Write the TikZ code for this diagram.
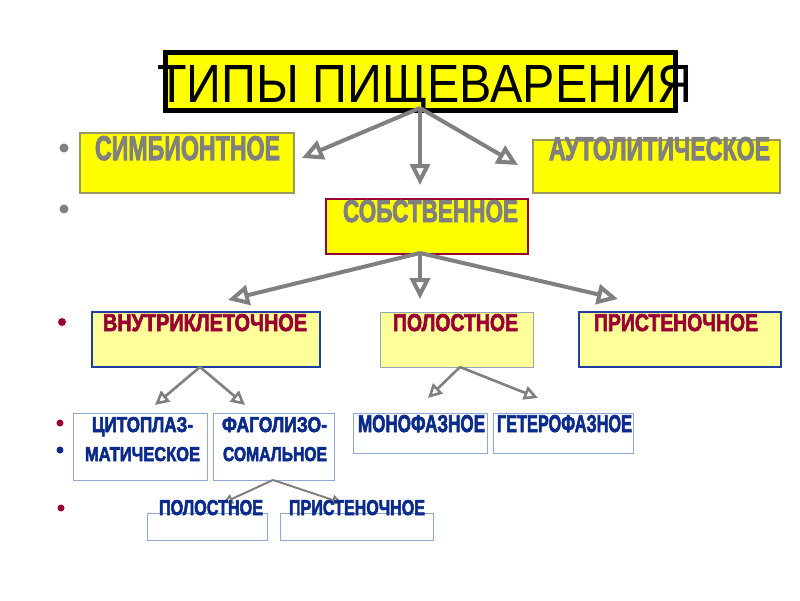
\documentclass[tikz,border=0pt]{standalone}
\usepackage{fontspec}
\setmainfont{Liberation Sans}
\newfontfamily\heavy{Liberation Sans}[FakeBold=3]
\usetikzlibrary{arrows.meta}
\definecolor{yel}{HTML}{FFFF00}
\definecolor{lyel}{HTML}{FFFF99}
\definecolor{gtxt}{HTML}{808080}
\definecolor{dred}{HTML}{990033}
\definecolor{dblue}{HTML}{0A2A8C}
\definecolor{bborder}{HTML}{1F3F9F}
\definecolor{lborder}{HTML}{8FA8D8}
\definecolor{oborder}{HTML}{9A9A60}
\definecolor{pborder}{HTML}{90A8B8}
\newcommand\fitt[3]{\resizebox{#1pt}{#2pt}{#3}}
\tikzset{
  bx/.style={inner sep=0pt, outer sep=0pt, anchor=north west},
  tx/.style={inner sep=0pt, outer sep=0pt, anchor=base west},
  hv/.style={font=\heavy\bfseries},
  dot/.style={circle, inner sep=0pt, minimum size=#1},
  arrA/.style={draw=gtxt, line width=4pt, -{Triangle[open, length=21pt, width=20pt]}},
  arrB/.style={draw=gtxt, line width=2.6pt, -{Triangle[open, length=14pt, width=14pt]}},
  arrC/.style={draw=gtxt, line width=2pt, -{Triangle[open, length=10pt, width=10pt]}},
}
\begin{document}
\begin{tikzpicture}[x=1pt,y=-1pt]
\useasboundingbox[fill=white] (0,0) rectangle (800,600);

% title
\node[bx, draw=black, line width=5pt, fill=yel, minimum width=510pt, minimum height=58pt] (title) at (165,52) {};
\node[tx] (titlet) at (157,102) {\fitt{535}{37}{ТИПЫ ПИЩЕВАРЕНИЯ}};

% bullets
\node[dot=9pt, fill=gtxt] (b1) at (64,148) {};
\node[dot=9pt, fill=gtxt] (b2) at (64,209) {};
\node[dot=8pt, fill=dred] (b3) at (62,322) {};
\node[dot=7pt, fill=dred] (b4) at (60,423) {};
\node[dot=7pt, fill=dblue] (b5) at (60,450) {};
\node[dot=7pt, fill=dred] (b6) at (61,508) {};

% level 1 boxes
\node[bx, draw=oborder, line width=1.2pt, fill=yel, minimum width=214pt, minimum height=60pt] (simb) at (80,133) {};
\node[tx, text=gtxt, hv] (simbt) at (95,160) {\fitt{185}{24}{СИМБИОНТНОЕ}};
\node[bx, draw=oborder, line width=1.2pt, fill=yel, minimum width=247pt, minimum height=53pt] (auto) at (533,140) {};
\node[tx, text=gtxt, hv] (autot) at (549,160) {\fitt{221}{23}{АУТОЛИТИЧЕСКОЕ}};
\node[bx, draw=dred, line width=2pt, fill=yel, minimum width=202pt, minimum height=55pt] (sobs) at (326,199) {};
\node[tx, text=gtxt, hv] (sobst) at (343,222) {\fitt{175}{22}{СОБСТВЕННОЕ}};

% level 2 boxes
\node[bx, draw=bborder, line width=2.5pt, fill=lyel, minimum width=228pt, minimum height=55pt] (vnut) at (92,312) {};
\node[tx, text=dred, hv] (vnutt) at (103,331) {\fitt{204}{17}{ВНУТРИКЛЕТОЧНОЕ}};
\node[bx, draw=pborder, line width=1pt, fill=lyel, minimum width=153pt, minimum height=55pt] (pol) at (380,312) {};
\node[tx, text=dred, hv] (polt) at (393,331) {\fitt{125}{17}{ПОЛОСТНОЕ}};
\node[bx, draw=bborder, line width=2.5pt, fill=lyel, minimum width=202pt, minimum height=55pt] (prist) at (579,312) {};
\node[tx, text=dred, hv] (pristt) at (594,331) {\fitt{164}{17}{ПРИСТЕНОЧНОЕ}};

% level 3 boxes
\node[bx, draw=lborder, line width=1pt, fill=white, minimum width=134pt, minimum height=67pt] (cito) at (73,413) {};
\node[tx, text=dblue, hv] (citot1) at (92,432) {\fitt{101}{15}{ЦИТОПЛАЗ-}};
\node[tx, text=dblue, hv] (citot2) at (85,461) {\fitt{115}{14}{МАТИЧЕСКОЕ}};
\node[bx, draw=lborder, line width=1pt, fill=white, minimum width=121pt, minimum height=67pt] (fago) at (213,413) {};
\node[tx, text=dblue, hv] (fagot1) at (222,432) {\fitt{105}{15}{ФАГОЛИЗО-}};
\node[tx, text=dblue, hv] (fagot2) at (223,461) {\fitt{104}{14}{СОМАЛЬНОЕ}};
\node[bx, draw=lborder, line width=1pt, fill=white, minimum width=134pt, minimum height=40pt] (mono) at (353,413) {};
\node[tx, text=dblue, hv] (monot) at (358,432) {\fitt{127}{17}{МОНОФАЗНОЕ}};
\node[bx, draw=lborder, line width=1pt, fill=white, minimum width=140pt, minimum height=40pt] (get) at (493,413) {};
\node[tx, text=dblue, hv] (gett) at (497,432) {\fitt{135}{17}{ГЕТЕРОФАЗНОЕ}};

% level 4 boxes
\node[bx, draw=lborder, line width=1pt, fill=white, minimum width=120pt, minimum height=27pt] (pol2) at (147,513) {};
\node[bx, draw=lborder, line width=1pt, fill=white, minimum width=153pt, minimum height=27pt] (pris2) at (280,513) {};

% arrow coordinates
\coordinate (o1) at (420,108);
\coordinate (t1a) at (302,158);
\coordinate (t1b) at (420,185);
\coordinate (t1c) at (518,165);
\coordinate (o2) at (420,253);
\coordinate (t2a) at (228,300);
\coordinate (t2b) at (420,299);
\coordinate (t2c) at (618,299);
\coordinate (o3) at (200,367);
\coordinate (t3a) at (155,405);
\coordinate (t3b) at (245,405);
\coordinate (o4) at (460,367);
\coordinate (t4a) at (428,398);
\coordinate (t4b) at (538,398);
\coordinate (o5) at (273,480);
\coordinate (t5a) at (223,503);
\coordinate (t5b) at (342,503);

\draw[arrA] (o1) -- (t1a);
\draw[arrA] (o1) -- (t1b);
\draw[arrA] (o1) -- (t1c);
\draw[arrA] (o2) -- (t2a);
\draw[arrA] (o2) -- (t2b);
\draw[arrA] (o2) -- (t2c);
\draw[arrB] (o3) -- (t3a);
\draw[arrB] (o3) -- (t3b);
\draw[arrB] (o4) -- (t4a);
\draw[arrB] (o4) -- (t4b);
\draw[arrC] (o5) -- (t5a);
\draw[arrC] (o5) -- (t5b);

% bottom texts drawn over arrows
\node[tx, text=dblue, hv] (pol2t) at (159,515) {\fitt{104}{15}{ПОЛОСТНОЕ}};
\node[tx, text=dblue, hv] (pris2t) at (289,515) {\fitt{136}{15}{ПРИСТЕНОЧНОЕ}};
\end{tikzpicture}
\end{document}
